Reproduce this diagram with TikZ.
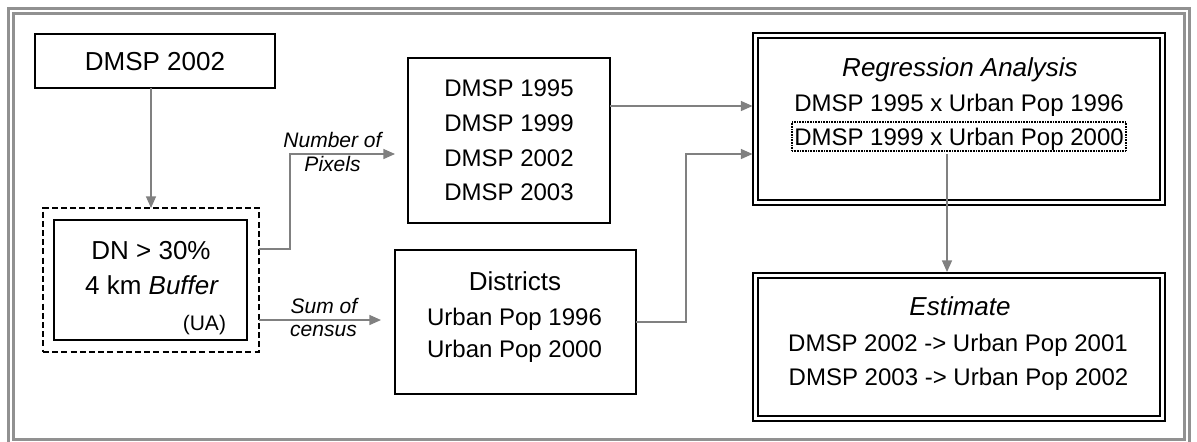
\documentclass[tikz,border=0pt]{standalone}
\usepackage{fontspec}
\setmainfont{Liberation Sans}
\usetikzlibrary{arrows.meta,calc}
\definecolor{linegray}{RGB}{128,128,128}
\definecolor{framegray}{RGB}{145,145,145}
\tikzset{
  box/.style={draw=black,line width=1pt,inner sep=0pt,outer sep=0pt,rectangle},
  dashbox/.style={box,dash pattern=on 3pt off 1.6pt},
  dbox/.style={draw=black,line width=1.25pt,double=white,double distance=1.25pt,inner sep=0pt,outer sep=0pt,rectangle},
  dotbox/.style={draw=black,line width=0.8pt,dash pattern=on 0.4pt off 0.4pt,inner sep=0pt,outer sep=0pt,rectangle},
  conn/.style={draw=linegray,line width=0.65pt,-{Triangle[length=5.8pt,width=5pt]}},
  body/.style={font=\fontsize{12}{17.35}\selectfont,inner sep=0pt,outer sep=0pt,text height=8.6pt,text depth=0pt},
  ttl/.style={font=\fontsize{13}{15}\selectfont,inner sep=0pt,outer sep=0pt,text height=9.3pt,text depth=0pt},
  lbl/.style={font=\fontsize{10.5}{12}\selectfont\itshape,inner sep=0pt,outer sep=0pt,text height=7.5pt,text depth=0pt},
  small/.style={font=\fontsize{10.5}{12}\selectfont,inner sep=0pt,outer sep=0pt,text height=7.5pt,text depth=0pt},
}
\begin{document}
\begin{tikzpicture}[x=0.5pt,y=-0.5pt]
\useasboundingbox (0,0) rectangle (1197,441);
% outer frame
\draw[framegray,line width=1.25pt,double=white,double distance=1.35pt] (10.9,10.9) rectangle (1187,442);

% boxes
\node[box,ttl,minimum width=120pt,minimum height=27pt] (top) at (155,61) {DMSP 2002};
\node[dashbox,minimum width=108pt,minimum height=72pt] (dash) at (151,280) {};
\node[box,minimum width=96.5pt,minimum height=60pt] (dn) at (150.5,280) {};
\node[ttl] (dn1) at (151,250.5) {DN > 30\%};
\node[ttl] (dn2) at (152,285.3) {4 km \textit{Buffer}};
\node[small,anchor=east] (ua) at (226,322.5) {(UA)};

\node[box,minimum width=101pt,minimum height=82.5pt,align=center,font=\fontsize{12}{17.35}\selectfont] (dmsp) at (509,140.5)
  {DMSP 1995\\DMSP 1999\\DMSP 2002\\DMSP 2003};

\node[box,minimum width=120.5pt,minimum height=72pt] (dist) at (515.5,322) {};
\node[ttl] (dist1) at (515,281) {Districts};
\node[body] (dist2) at (514.5,316.8) {Urban Pop 1996};
\node[body] (dist3) at (514.5,348.5) {Urban Pop 2000};

\node[dbox,minimum width=203.6pt,minimum height=83.6pt] (reg) at (959.1,118.9) {};
\node[ttl,font=\fontsize{13}{15}\selectfont\itshape] (reg1) at (960,67.5) {Regression Analysis};
\node[body] (reg2) at (959,103.3) {DMSP 1995 x Urban Pop 1996};
\node[dotbox,minimum width=167pt,minimum height=14.5pt] (dot) at (959,136.5) {};
\node[body] (reg3) at (959,136.7) {DMSP 1999 x Urban Pop 2000};

\node[dbox,minimum width=203.6pt,minimum height=71.5pt] (est) at (959.1,347) {};
\node[ttl,font=\fontsize{13}{15}\selectfont\itshape] (est1) at (960,306.3) {Estimate};
\node[body] (est2) at (958,343.3) {DMSP 2002 -> Urban Pop 2001};
\node[body] (est3) at (958.5,376.7) {DMSP 2003 -> Urban Pop 2002};

% connector labels
\node[lbl] (l1) at (332.5,139.5) {Number of};
\node[lbl] (l2) at (332.5,164) {Pixels};
\node[lbl] (l3) at (324,305.5) {Sum of};
\node[lbl] (l4) at (323.5,328.5) {census};

% free ends / helper coordinates
\coordinate (pixend) at (395,154);
\coordinate (cenend) at (381,320);
\coordinate (yA) at (0,106);
\coordinate (yB) at (0,154);
\coordinate (xC) at (947,0);

% connectors
\draw[conn] (dash.north |- top.south) -- (dash.north);
\draw[conn] ($(dash.east)+(0,-31)$) -- ++(31,0) |- (pixend);
\draw[conn] ($(dash.east)+(0,40)$) -- (cenend);
\draw[conn,shorten >=1.5pt] (dmsp.east |- yA) -- (reg.west |- yA);
\draw[conn,shorten >=1.5pt] (dist.east) -- ++(50,0) |- (reg.west |- yB);
\draw[conn,shorten <=1.5pt,shorten >=1.75pt] (dot.south -| xC) -- (est.north -| xC);
\end{tikzpicture}
\end{document}
